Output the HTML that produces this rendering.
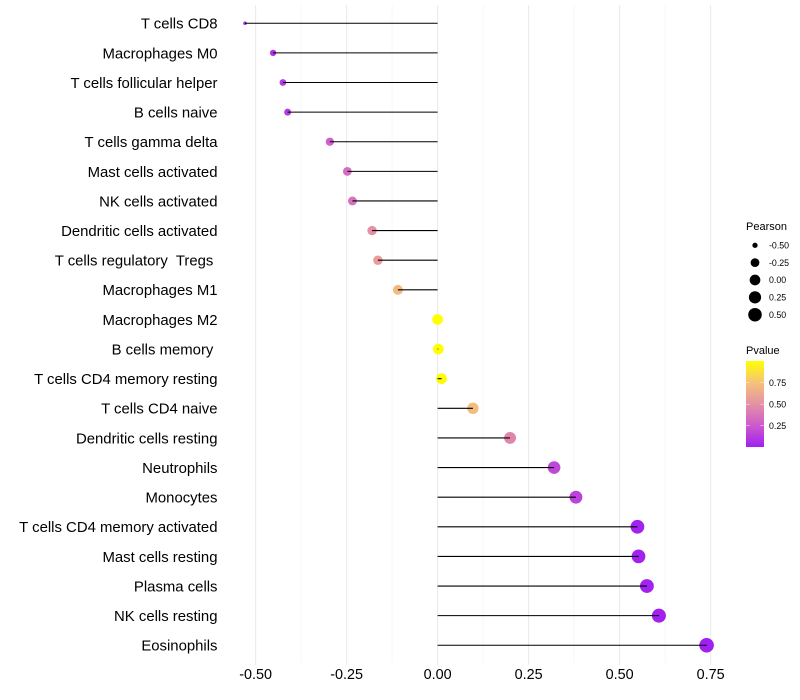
<!DOCTYPE html>
<html>
<head>
<meta charset="utf-8">
<style>
html,body{margin:0;padding:0;background:#fff;}
svg{display:block;font-family:"Liberation Sans",sans-serif;}
text{white-space:pre;}
</style>
</head>
<body>
<svg id="chart" width="800" height="700" viewBox="0 0 800 700" xmlns="http://www.w3.org/2000/svg">
<defs>
<linearGradient id="pvalue-gradient" x1="0" y1="1" x2="0" y2="0"></linearGradient>
</defs>
<rect width="800" height="700" fill="#fff"/>
<g id="grid"></g>
<g id="points"></g>
<g id="stems"></g>
<g id="yaxis"></g>
<g id="xaxis"></g>
<g id="legend-size">
<text x="746" y="230" font-size="11" fill="#000">Pearson</text>
</g>
<g id="legend-color">
<text x="746" y="354" font-size="11" fill="#000">Pvalue</text>
<rect x="746" y="361" width="18" height="86" fill="url(#pvalue-gradient)"/>
</g>
</svg>
<script>
const categories = ["T cells CD8","Macrophages M0","T cells follicular helper","B cells naive","T cells gamma delta","Mast cells activated","NK cells activated","Dendritic cells activated","T cells regulatory  Tregs ","Macrophages M1","Macrophages M2","B cells memory ","T cells CD4 memory resting","T cells CD4 naive","Dendritic cells resting","Neutrophils","Monocytes","T cells CD4 memory activated","Mast cells resting","Plasma cells","NK cells resting","Eosinophils"];
const pearson = [-0.529,-0.452,-0.425,-0.412,-0.296,-0.248,-0.234,-0.180,-0.164,-0.109,0.000,0.002,0.011,0.097,0.199,0.320,0.380,0.549,0.552,0.575,0.608,0.739];
const pvalue = [0.02,0.08,0.12,0.12,0.28,0.34,0.36,0.50,0.56,0.70,1.00,1.00,0.98,0.72,0.45,0.17,0.15,0.01,0.01,0.01,0.005,0.001];
const xMajorTicks = [-0.50,-0.25,0.00,0.25,0.50,0.75];
const xMinorTicks = [-0.375,-0.125,0.125,0.375,0.625];
const sizeLegendValues = [-0.50,-0.25,0.00,0.25,0.50];
const colorLegendValues = [0.25,0.50,0.75];
const colorStopValues = [0,0.25,0.5,0.75,1];
const colorStops = [[160,32,240],[205,90,205],[228,145,165],[245,195,120],[255,255,0]];

const NS = "http://www.w3.org/2000/svg";
const xScale = v => 437.6 + v * 364;
const yScale = i => 23.25 + i * 29.62;
const sizeScale = v => 1.8 + 5.5 * Math.sqrt(Math.max(0, (v + 0.529) / 1.268));
const legendSizeY = i => 245.3 + i * 17.35;
const colorbarY = p => 447.2 - p * 86;
function colorScale(p) {
  let k = 0;
  while (k < colorStopValues.length - 2 && p > colorStopValues[k + 1]) k++;
  const t = (p - colorStopValues[k]) / (colorStopValues[k + 1] - colorStopValues[k]);
  const c = colorStops[k].map((a, j) => Math.round(a + (colorStops[k + 1][j] - a) * t));
  return "rgb(" + c.join(",") + ")";
}
function mk(tag, attrs, parent) {
  const el = document.createElementNS(NS, tag);
  for (const key in attrs) el.setAttribute(key, attrs[key]);
  parent.appendChild(el);
  return el;
}
const grid = document.getElementById("grid");
const pointsG = document.getElementById("points");
const stemsG = document.getElementById("stems");
const yaxisG = document.getElementById("yaxis");
const xaxisG = document.getElementById("xaxis");
const legendSizeG = document.getElementById("legend-size");
const legendColorG = document.getElementById("legend-color");
const gradient = document.getElementById("pvalue-gradient");

xMinorTicks.forEach(v => {
  const l = mk("line", {x1: xScale(v), x2: xScale(v), y1: 5, y2: 663, stroke: "#f0f0f0", "stroke-width": 0.55}, grid);
  
  
});
xMajorTicks.forEach(v => {
  const l = mk("line", {x1: xScale(v), x2: xScale(v), y1: 5, y2: 665, stroke: "#ebebeb", "stroke-width": 1.07}, grid);
  
  
  const t = mk("text", {x: xScale(v), y: 679, "text-anchor": "middle", "font-size": 14.4, fill: "#000"}, xaxisG);
  t.textContent = v.toFixed(2);
  
  
});
categories.forEach((name, i) => {
  const y = yScale(i);
  const c = mk("circle", {cx: xScale(pearson[i]), cy: y, r: sizeScale(pearson[i]), fill: colorScale(pvalue[i])}, pointsG);
  
  
  const s = mk("line", {x1: xScale(0), x2: xScale(pearson[i]), y1: y, y2: y, stroke: "#000", "stroke-width": 1.07}, stemsG);
  
  
  const t = mk("text", {x: 217.5, y: y + 5.4, "text-anchor": "end", "font-size": 14.9, fill: "#000"}, yaxisG);
  t.textContent = name;
  
  
});
sizeLegendValues.forEach((v, i) => {
  const c = mk("circle", {cx: 755, cy: legendSizeY(i), r: sizeScale(v), fill: "#000"}, legendSizeG);
  
  
  const t = mk("text", {x: 769, y: legendSizeY(i) + 3.2, "font-size": 8.8, fill: "#000"}, legendSizeG);
  t.textContent = v.toFixed(2);
  
  
});
colorStopValues.forEach((p, k) => {
  const s = mk("stop", {offset: p, "stop-color": colorScale(p)}, gradient);
  
  
});
colorLegendValues.forEach(p => {
  const y = colorbarY(p);
  const a = mk("line", {x1: 746, x2: 749.6, y1: y, y2: y, stroke: "#fff", "stroke-width": 0.55, opacity: 0.8}, legendColorG);
  
  
  const b = mk("line", {x1: 760.4, x2: 764, y1: y, y2: y, stroke: "#fff", "stroke-width": 0.55, opacity: 0.8}, legendColorG);
  
  
  const t = mk("text", {x: 769, y: y + 3.2, "font-size": 8.8, fill: "#000"}, legendColorG);
  t.textContent = p.toFixed(2);
  
  
});
</script>
</body>
</html>
